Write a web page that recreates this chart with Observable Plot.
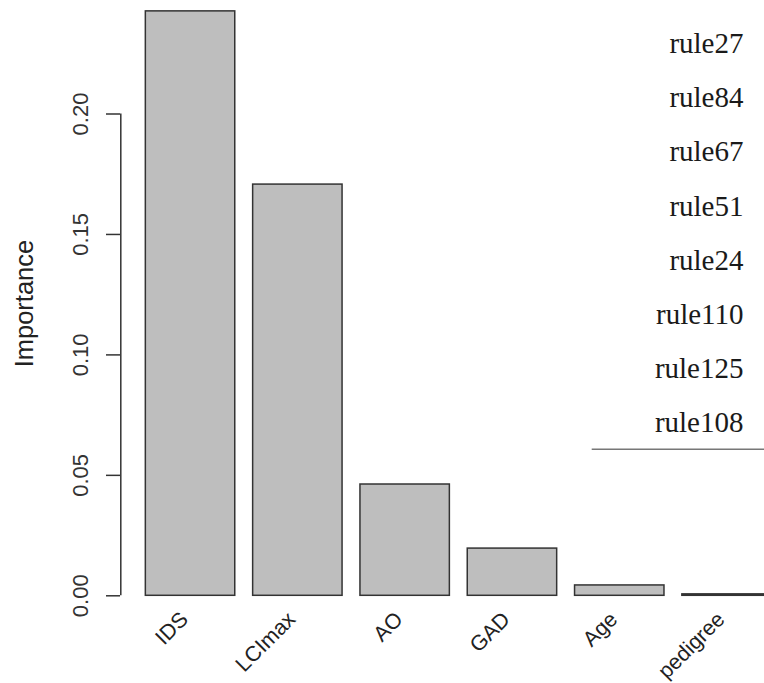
<!DOCTYPE html>
<html><head><meta charset="utf-8">
<script src="https://cdn.jsdelivr.net/npm/d3@7"></script>
<script src="https://cdn.jsdelivr.net/npm/@observablehq/plot@0.6"></script>
<style>html,body{margin:0;padding:0;background:#fff;overflow:hidden}</style>
</head><body><div id="chart"></div>
<script>
// ---- data ----
const variables = ["IDS", "LCImax", "AO", "GAD", "Age", "pedigree"];
const importance = [0.2426, 0.1707, 0.0462, 0.0196, 0.0043, 0.0006];
const yTicks = [0, 0.05, 0.10, 0.15, 0.20];
const rules = ["rule27", "rule84", "rule67", "rule51", "rule24", "rule110", "rule125", "rule108"];
const yLabel = "Importance";

// ---- barplot geometry (R barplot style: width 1, space 0.2) ----
const barWidth = 1, space = 0.2;
const bars = variables.map((v, i) => ({
  variable: v,
  value: importance[i],
  x1: space + i * (barWidth + space),
  x2: (i + 1) * (barWidth + space)
}));
const n = variables.length;
const xl = space, xr = n * (barWidth + space);
const xPad = 0.04 * (xr - xl);
const xDomain = [xl - xPad, xr + xPad];
const ymax = d3.max(importance);

// ---- layout ----
const W = 764, H = 683;
const pxPerUnit = 89.42;
const xRange = [120.3, 120.3 + (xDomain[1] - xDomain[0]) * pxPerUnit];
const yRange = [595.3, 113.5];
const ruleTop = 52.7, ruleStep = 54.14, ruleRight = 21;
const sepPx = 448.7, sepLeft = 591.7;

const ruleMarks = rules.map((r, i) => Plot.text([r], {
  text: d => d, frameAnchor: "top-right", dx: -ruleRight, dy: ruleTop + i * ruleStep,
  textAnchor: "end", lineAnchor: "bottom", fontFamily: "Liberation Serif",
  fontSize: 29, fill: "#1a1a1a"
}));

const chart = Plot.plot({
  width: W, height: H,
  marginLeft: 120, marginRight: 0, marginTop: 0, marginBottom: 0,
  style: {fontFamily: "Liberation Sans, Arial, sans-serif", background: "#fff"},
  x: {domain: xDomain, range: xRange, axis: null},
  y: {domain: [0, 0.2], range: yRange, axis: null},
  marks: [
    Plot.rectY(bars, {x1: "x1", x2: "x2", y: "value", fill: "#bebebe", stroke: "#333", strokeWidth: 1.5, clip: true}),
    Plot.ruleX([xDomain[0]], {y1: 0, y2: 0.2, stroke: "#333", strokeWidth: 1.5}),
    Plot.axisY(yTicks, {tickSize: 14, tickPadding: 19, tickRotate: -90, tickFormat: d3.format(".2f"),
      fontSize: 22, label: null, color: "#333", strokeWidth: 1.5}),
    Plot.text([yLabel], {text: d => d, frameAnchor: "left", y: ymax / 2, dx: -87.4, rotate: -90,
      textAnchor: "middle", lineAnchor: "bottom", fontSize: 25.5, fill: "#222"}),
    Plot.text(bars, {x: d => (d.x1 + d.x2) / 2, y: 0, dx: -6, dy: 20, rotate: -45, text: "variable",
      textAnchor: "end", lineAnchor: "middle", fontSize: 21.5, fill: "#222"}),
    ...ruleMarks,
    Plot.ruleY([0], {dy: sepPx - yRange[0], insetLeft: sepLeft - 120, stroke: "#777", strokeWidth: 1.5})
  ]
});
document.getElementById("chart").appendChild(chart);
</script>
</body></html>
